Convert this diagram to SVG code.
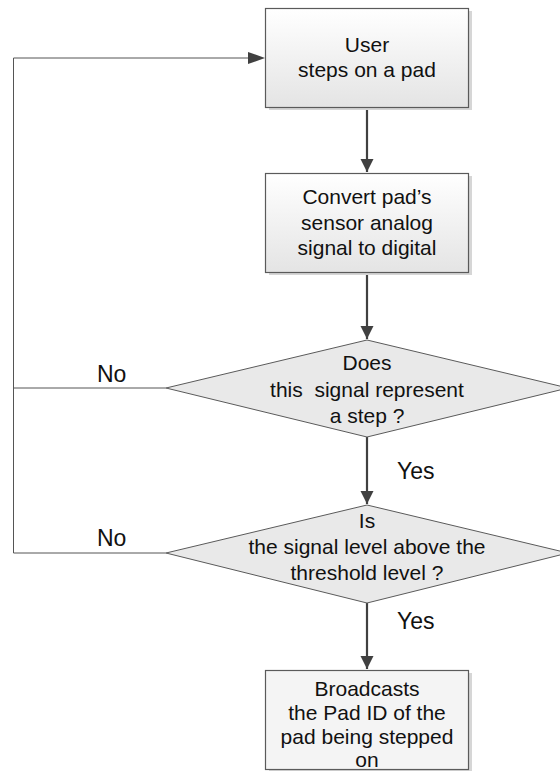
<svg xmlns="http://www.w3.org/2000/svg" width="560" height="771" viewBox="0 0 560 771">
<style>
.box{fill:url(#g);stroke:#5a5a5a;stroke-width:1.2}
.sh{fill:#d6d6d6}
.t{font-family:"Liberation Sans",Arial,sans-serif;font-size:21px;fill:#111;text-anchor:middle}
.lbl{font-family:"Liberation Sans",Arial,sans-serif;font-size:23px;fill:#111}
.arr{stroke:#404040;stroke-width:2.2;fill:none;marker-end:url(#ah)}
.thin{stroke:#555;stroke-width:1;fill:none}
</style>
<defs>
<linearGradient id="g" x1="0" y1="0" x2="0" y2="1"><stop offset="0" stop-color="#ffffff"/><stop offset="1" stop-color="#e4e4e4"/></linearGradient>
<marker id="ah" viewBox="0 0 10 10" refX="10" refY="5" markerWidth="6" markerHeight="6" orient="auto"><path d="M0,0 L10,5 L0,10 z" fill="#404040"/></marker>
</defs>
<g id="connectors">
<path class="arr" d="M367,107 V172"/>
<path class="arr" d="M367,272 V339"/>
<path class="arr" d="M367,437 V504"/>
<path class="arr" d="M367,603 V669"/>
<polyline class="thin" points="166,388 13.5,388"/>
<polyline class="thin" points="166,553 13.5,553 13.5,58 250,58"/>
<path d="M248,52 L265,58 L248,64 z" fill="#404040"/>
<text class="lbl" x="97" y="382">No</text>
<text class="lbl" x="97" y="546">No</text>
<text class="lbl" x="397" y="479">Yes</text>
<text class="lbl" x="397" y="629">Yes</text>
</g>
<g id="n1">
<rect class="sh" x="269" y="11" width="203" height="99"/>
<rect class="box" x="265.5" y="8.5" width="203" height="99"/>
<text class="t" x="367" y="52">User</text>
<text class="t" x="367" y="77">steps on a pad</text>
</g>
<g id="n2">
<rect class="sh" x="269" y="176" width="203" height="99"/>
<rect class="box" x="265.5" y="173.5" width="203" height="99"/>
<text class="t" x="367" y="204">Convert pad’s</text>
<text class="t" x="367" y="230">sensor analog</text>
<text class="t" x="367" y="255">signal to digital</text>
</g>
<g id="d1">
<polygon points="367,340 568,388 367,437 166,388" fill="#e9e9e9" stroke="#5a5a5a" stroke-width="1"/>
<text class="t" x="367" y="370">Does</text>
<text class="t" x="367" y="397" xml:space="preserve">this  signal represent</text>
<text class="t" x="367" y="423">a step ?</text>
</g>
<g id="d2">
<polygon points="367,505 568,553 367,603 166,553" fill="#e9e9e9" stroke="#5a5a5a" stroke-width="1"/>
<text class="t" x="367" y="528">Is</text>
<text class="t" x="367" y="554">the signal level above the</text>
<text class="t" x="367" y="580">threshold level ?</text>
</g>
<g id="n3">
<rect class="sh" x="269" y="673" width="203" height="99"/>
<rect class="box" x="265.5" y="670.5" width="203" height="99" style="fill:#f4f4f4"/>
<text class="t" x="367" y="696">Broadcasts</text>
<text class="t" x="367" y="720">the Pad ID of the</text>
<text class="t" x="367" y="744">pad being stepped</text>
<text class="t" x="367" y="767">on</text>
</g>
</svg>
